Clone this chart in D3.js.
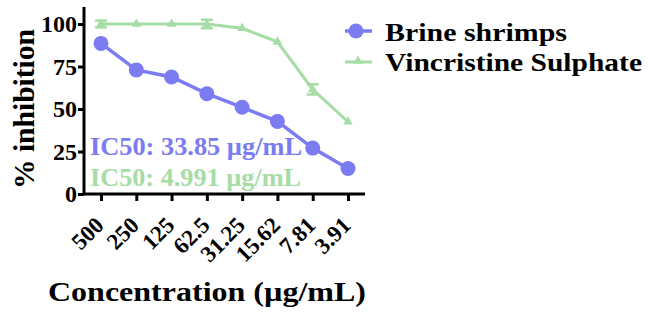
<!DOCTYPE html>
<html lang="en">
<head>
<meta charset="UTF-8">
<title>Inhibition chart</title>
<script src="https://d3js.org/d3.v7.min.js"></script>
<style>
    body { margin: 0; background: #fff; }
    svg { font-family: "Liberation Serif", "Times New Roman", serif; font-weight: bold; }
</style>
</head>
<body>
<div id="chart"></div>
<script>
var concentrations = ["500", "250", "125", "62.5", "31.25", "15.62", "7.81", "3.91"];
var brine = [88.6, 73, 68.8, 59, 51, 42.7, 27, 15];
var vincristine = [100, 100, 100, 100, 97.5, 89.5, 61.5, 42.5];
var vincristineErr = [2, 0, 0, 2.5, 0, 0, 3, 0];
var yTicks = [0, 25, 50, 75, 100];
var ic50Labels = ["IC50: 33.85 µg/mL", "IC50: 4.991 µg/mL"];
var seriesNames = ["Brine shrimps", "Vincristine Sulphate"];

var blue = "#7b7bf2", green = "#a6dca6";
var width = 648, height = 314;

var svg = d3.select("#chart").append("svg")
    .attr("width", width)
    .attr("height", height);

var x = d3.scalePoint()
    .domain(concentrations)
    .range([101, 348]);

var y = d3.scaleLinear()
    .domain([0, 100])
    .range([194, 24]);

// y axis
var yAxis = svg.append("g")
    .attr("transform", "translate(84,0)")
    .call(d3.axisLeft(y).tickValues(yTicks).tickSize(6).tickPadding(1));
yAxis.select(".domain").attr("d", "M0,7V194").attr("stroke-width", 3);
yAxis.selectAll(".tick line").attr("stroke-width", 3);
yAxis.selectAll(".tick text")
    .attr("font-size", 24)
    .attr("font-family", "Liberation Serif")
    .attr("font-weight", "bold")
    .attr("fill", "#000");

// x axis
var xAxis = svg.append("g")
    .attr("transform", "translate(0,194)")
    .call(d3.axisBottom(x).tickSize(7));
xAxis.select(".domain").attr("d", "M84,0H365").attr("stroke-width", 3);
xAxis.selectAll(".tick line").attr("stroke-width", 3);
xAxis.selectAll(".tick text")
    .attr("font-size", 23)
    .attr("font-family", "Liberation Serif")
    .attr("font-weight", "bold")
    .attr("fill", "#000")
    .attr("text-anchor", "end")
    .attr("y", 0)
    .attr("dy", "0.35em")
    .attr("transform", "translate(-2,27) rotate(-45)");

// axis titles
svg.append("text")
    .attr("transform", "translate(34,109) rotate(-90)")
    .attr("text-anchor", "middle")
    .attr("font-size", 29)
    .attr("textLength", 160)
    .attr("lengthAdjust", "spacingAndGlyphs")
    .text("% inhibition");

svg.append("text")
    .attr("x", 48)
    .attr("y", 301)
    .attr("font-size", 27)
    .attr("textLength", 318)
    .attr("lengthAdjust", "spacingAndGlyphs")
    .text("Concentration (µg/mL)");

// vincristine line + error bars + triangles
var line = d3.line()
    .x((d, i) => x(concentrations[i]))
    .y(d => y(d));

svg.append("path")
    .datum(vincristine)
    .attr("fill", "none")
    .attr("stroke", green)
    .attr("stroke-width", 3)
    .attr("d", line);

var eb = svg.append("g").attr("stroke", green).attr("stroke-width", 2.5);
vincristine.forEach(function(v, i) {
    var e = vincristineErr[i];
    if (!e) return;
    var cx = x(concentrations[i]);
    eb.append("line").attr("x1", cx).attr("x2", cx).attr("y1", y(v + e)).attr("y2", y(v - e));
    eb.append("line").attr("x1", cx - 6).attr("x2", cx + 6).attr("y1", y(v + e)).attr("y2", y(v + e));
    eb.append("line").attr("x1", cx - 6).attr("x2", cx + 6).attr("y1", y(v - e)).attr("y2", y(v - e));
});

svg.append("g").selectAll("path")
    .data(vincristine)
    .join("path")
    .attr("fill", green)
    .attr("transform", (d, i) => `translate(${x(concentrations[i])},${y(d)})`)
    .attr("d", d3.symbol().type(d3.symbolTriangle).size(40));

// brine shrimps line + circles
svg.append("path")
    .datum(brine)
    .attr("fill", "none")
    .attr("stroke", blue)
    .attr("stroke-width", 3.5)
    .attr("d", line);

svg.append("g").selectAll("circle")
    .data(brine)
    .join("circle")
    .attr("cx", (d, i) => x(concentrations[i]))
    .attr("cy", d => y(d))
    .attr("r", 7.5)
    .attr("fill", blue);

// IC50 labels
svg.append("text")
    .attr("x", 90).attr("y", 155)
    .attr("font-size", 25)
    .attr("textLength", 212)
    .attr("lengthAdjust", "spacingAndGlyphs")
    .attr("fill", blue)
    .text(ic50Labels[0]);
svg.append("text")
    .attr("x", 90).attr("y", 186)
    .attr("font-size", 25)
    .attr("textLength", 211)
    .attr("lengthAdjust", "spacingAndGlyphs")
    .attr("fill", green)
    .text(ic50Labels[1]);

// legend
var legend = svg.append("g");
legend.append("line").attr("x1", 345).attr("x2", 372).attr("y1", 31).attr("y2", 31)
    .attr("stroke", blue).attr("stroke-width", 3.5);
legend.append("circle").attr("cx", 356).attr("cy", 31).attr("r", 7.5).attr("fill", blue);
legend.append("text").attr("x", 385).attr("y", 41).attr("font-size", 26)
    .attr("textLength", 182).attr("lengthAdjust", "spacingAndGlyphs")
    .text(seriesNames[0]);

legend.append("line").attr("x1", 345).attr("x2", 372).attr("y1", 62).attr("y2", 62)
    .attr("stroke", green).attr("stroke-width", 3);
legend.append("path").attr("transform", "translate(358,61)")
    .attr("fill", green)
    .attr("d", d3.symbol().type(d3.symbolTriangle).size(40));
legend.append("text").attr("x", 385).attr("y", 71).attr("font-size", 26)
    .attr("textLength", 257).attr("lengthAdjust", "spacingAndGlyphs")
    .text(seriesNames[1]);
</script>
</body>
</html>
